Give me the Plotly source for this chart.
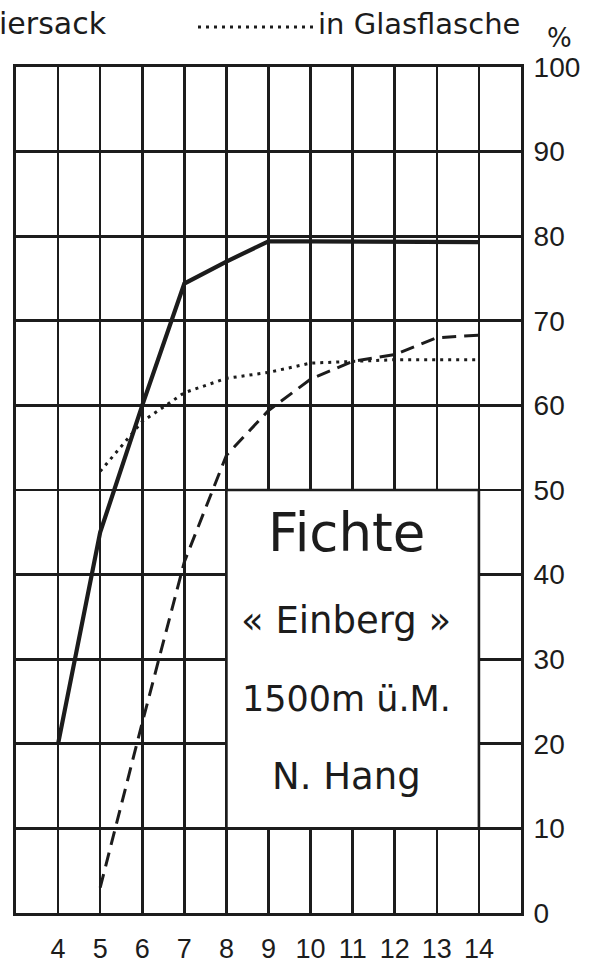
import plotly.graph_objects as go

# x positions (ticks along the bottom)
x_ticks = [4, 5, 6, 7, 8, 9, 10, 11, 12, 13, 14]
x_labels = ["4", "5", "6", "7", "8", "9", "10", "11", "12", "13", "14"]
y_ticks = [0, 10, 20, 30, 40, 50, 60, 70, 80, 90, 100]
y_labels = ["0", "10", "20", "30", "40", "50", "60", "70", "80", "90", "100"]

# solid curve ("... Papiersack")
solid_x = [4, 5, 6, 7, 8, 9, 10, 11, 12, 13, 14]
solid_y = [20, 45, 60, 74.4, 77.0, 79.4, 79.4, 79.4, 79.4, 79.4, 79.3]

# dashed curve
dashed_x = [5, 6, 7, 8, 9, 10, 11, 12, 13, 14]
dashed_y = [3, 22.5, 41.5, 54.1, 59.4, 63.1, 65.2, 66.0, 68.0, 68.3]

# dotted curve ("in Glasflasche")
dotted_x = [5, 6, 7, 8, 9, 10, 11, 12, 13, 14]
dotted_y = [52.2, 58.1, 61.5, 63.2, 63.9, 65.0, 65.2, 65.4, 65.4, 65.4]

# text box content
box_lines = ["Fichte", "« Einberg »", "1500m ü.M.", "N. Hang"]

INK = "#1c1c1c"
W, H = 595, 967
L, R, T, B = 16, 74, 67, 54
PW, PH = W - L - R, H - T - B

def px_x(p):
    return (p - L) / PW

def px_y(p):
    return (H - B - p) / PH

fig = go.Figure()

fig.add_trace(go.Scatter(x=solid_x, y=solid_y, mode="lines",
                         line=dict(color=INK, width=4.2), showlegend=False,
                         hoverinfo="skip"))
fig.add_trace(go.Scatter(x=dashed_x, y=dashed_y, mode="lines",
                         line=dict(color=INK, width=3, dash="14px,8px"),
                         showlegend=False, hoverinfo="skip"))
fig.add_trace(go.Scatter(x=dotted_x, y=dotted_y, mode="lines",
                         line=dict(color=INK, width=3, dash="3px,5px"),
                         showlegend=False, hoverinfo="skip"))

# white box with border that hides the grid
fig.add_shape(type="rect", x0=8, x1=14, y0=10, y1=50, xref="x", yref="y",
              fillcolor="white", line=dict(color=INK, width=2.6), layer="above")

box_y = [45.0, 34.6, 25.3, 16.1]
box_size = [53, 37, 35, 37]
for txt, yy, sz in zip(box_lines, box_y, box_size):
    fig.add_annotation(x=10.85, y=yy, xref="x", yref="y", text=txt,
                       showarrow=False, xanchor="center", yanchor="middle",
                       font=dict(family="DejaVu Sans", size=sz, color=INK))

# header (legend text, cut at left edge)
fig.add_annotation(x=px_x(-3), y=px_y(24), xref="paper", yref="paper",
                   text="iersack", showarrow=False, xanchor="left",
                   yanchor="middle",
                   font=dict(family="DejaVu Sans", size=30, color=INK))
fig.add_shape(type="line", xref="paper", yref="paper",
              x0=px_x(198), x1=px_x(314), y0=px_y(27), y1=px_y(27),
              line=dict(color=INK, width=3, dash="3px,5px"))
fig.add_annotation(x=px_x(316), y=px_y(24), xref="paper", yref="paper",
                   text="in Glasflasche", showarrow=False, xanchor="left",
                   yanchor="middle",
                   font=dict(family="DejaVu Sans", size=29, color=INK))
fig.add_annotation(x=px_x(559), y=px_y(38), xref="paper", yref="paper",
                   text="%", showarrow=False, xanchor="center",
                   yanchor="middle",
                   font=dict(family="DejaVu Sans", size=26, color=INK))

fig.update_xaxes(range=[3, 15], tickvals=x_ticks, ticktext=x_labels,
                 showgrid=True, gridcolor=INK, gridwidth=2.6,
                 showline=True, linecolor=INK, linewidth=3, mirror=True,
                 zeroline=False, ticks="", ticklabelstandoff=10,
                 automargin=False,
                 tickfont=dict(family="Liberation Sans", size=27, color=INK))
fig.update_yaxes(range=[0, 100], tickvals=y_ticks, ticktext=y_labels,
                 side="right",
                 showgrid=True, gridcolor=INK, gridwidth=2.6,
                 showline=True, linecolor=INK, linewidth=3, mirror=True,
                 zeroline=False, ticks="", ticklabelstandoff=4,
                 automargin=False,
                 tickfont=dict(family="Liberation Sans", size=28, color=INK))

fig.update_layout(width=W, height=H, margin=dict(l=L, r=R, t=T, b=B),
                  paper_bgcolor="white", plot_bgcolor="white",
                  showlegend=False, hovermode=False)

fig.write_html("out.html",
               config={"displayModeBar": False, "staticPlot": True},
               post_script="document.body.style.margin='0';"
                           "document.body.style.overflow='hidden';")
